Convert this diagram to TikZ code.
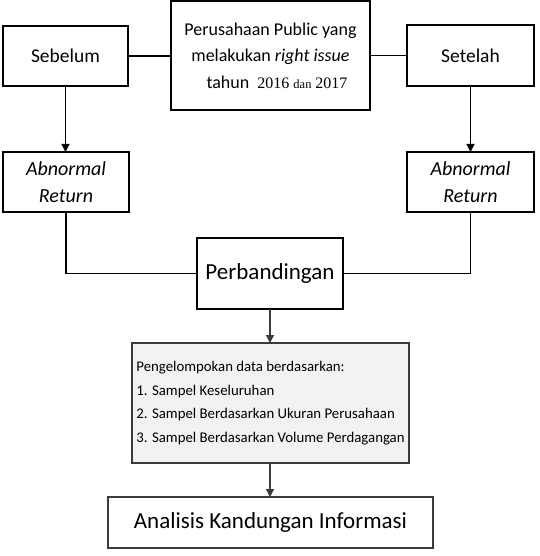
\documentclass[tikz,border=0pt]{standalone}
\usepackage{fontspec}
\setmainfont{Carlito}
\newfontfamily\serifnum{Liberation Serif}
\usetikzlibrary{arrows.meta}
\definecolor{pengfill}{HTML}{F2F2F2}
\definecolor{darkline}{HTML}{3A3A3A}
\begin{document}
\begin{tikzpicture}[x=1pt,y=-1pt,
  box/.style={draw=black, line width=1.3pt, inner sep=0pt, outer sep=0pt, align=center, fill=white},
  conn/.style={line width=1.3pt, draw=black},
  arr/.style={line width=1.3pt, draw=black, -{Triangle[width=8pt,length=8pt]}},
  lowarr/.style={line width=1.2pt, draw=darkline, -{Triangle[width=8pt,length=8pt]}}]
\useasboundingbox (0,0) rectangle (539,556);
% nodes
\node[box, minimum width=125pt, minimum height=60pt, font=\fontsize{19.5}{23}\selectfont] (seb) at (65.5,56) {Sebelum};
\node[box, minimum width=199pt, minimum height=109pt, font=\fontsize{18}{26.5}\selectfont] (pub) at (270.5,55.5)
  {Perusahaan Public yang\\ melakukan \textit{right issue}\\ \hspace*{13pt}tahun~ {\serifnum\fontsize{16}{16}\selectfont 2016 {\fontsize{12.5}{12.5}\selectfont dan} 2017}};
\node[box, minimum width=127pt, minimum height=61pt, font=\fontsize{19.5}{23}\selectfont] (set) at (470.5,55.5) {Setelah};
\node[box, minimum width=126pt, minimum height=60pt, font=\fontsize{20}{27}\selectfont\itshape] (abl) at (66,182) {Abnormal\\Return};
\node[box, minimum width=127pt, minimum height=60pt, font=\fontsize{20}{27}\selectfont\itshape] (abr) at (470.5,182) {Abnormal\\Return};
\node[box, minimum width=146pt, minimum height=71pt, font=\fontsize{23}{27}\selectfont] (perb) at (270,273.5) {Perbandingan};
\node[box, draw=darkline, line width=1.2pt, fill=pengfill, align=left, minimum width=277pt, minimum height=120pt, font=\fontsize{14.8}{23.5}\selectfont] (peng) at (270.5,403)
  {Pengelompokan data berdasarkan:\\1. Sampel Keseluruhan\\2. Sampel Berdasarkan Ukuran Perusahaan\\3. Sampel Berdasarkan Volume Perdagangan};
\node[box, draw=darkline, line width=1.2pt, minimum width=325pt, minimum height=51pt, font=\fontsize{23}{27}\selectfont] (ana) at (270.5,522.5) {Analisis Kandungan Informasi};
% connectors
\draw[conn] (seb.east) -- (seb.east -| pub.west);
\draw[conn] (set.west) -- (set.west -| pub.east);
\draw[arr] (seb.south) -- (seb.south |- abl.north);
\draw[arr] (set.south) -- (set.south |- abr.north);
\draw[conn] (abl.south) |- (perb.west);
\draw[conn] (abr.south) |- (perb.east);
\draw[lowarr] (perb.south) -- (perb.south |- peng.north);
\draw[lowarr] (perb.south |- peng.south) -- (perb.south |- ana.north);
\end{tikzpicture}
\end{document}
